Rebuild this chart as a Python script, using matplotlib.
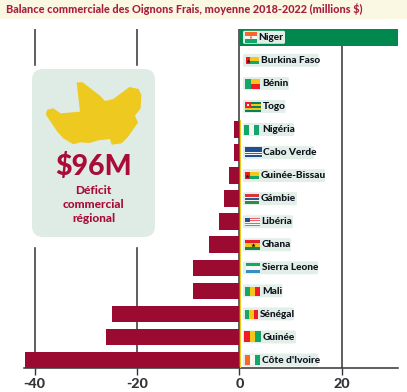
import matplotlib
matplotlib.use("Agg")
import matplotlib.pyplot as plt
from matplotlib.patches import FancyBboxPatch, Rectangle, Polygon, Circle

plt.rcParams['font.family'] = ['Lato', 'DejaVu Sans']
plt.rcParams['axes.unicode_minus'] = False

countries = ["Côte d'Ivoire", "Guinée", "Sénégal", "Mali", "Sierra Leone", "Ghana", "Libéria",
             "Gámbie", "Guinée-Bissau", "Cabo Verde", "Nigéria", "Togo", "Bénin", "Burkina Faso", "Niger"]
balance = [-42, -26, -25, -9, -9, -6, -4, -3, -2, -1, -1, 0, 0, 0, 31]
xticks = [-40, -20, 0, 20]
title = "Balance commerciale des Oignons Frais, moyenne 2018-2022 (millions $)"
callout_value = "$96M"
callout_text = "Déficit\ncommercial\nrégional"

W, H = 407, 392
RED, GREEN, YEL, DARK = '#9B0A31', '#00884F', '#EEC920', '#333338'
PANEL = '#DFECE6'

fig = plt.figure(figsize=(W / 100, H / 100), dpi=100, facecolor='white')
L, R, T, B = 24, 398, 29, 368.3
ax = fig.add_axes([L / W, 1 - B / H, (R - L) / W, (B - T) / H])
ax.set_xlim(-42.1, 30.98)
ax.set_ylim(-0.36, 14.36)
ax.set_facecolor('none')
for s in ['top', 'right', 'left']:
    ax.spines[s].set_visible(False)
ax.spines['bottom'].set_color(DARK)
ax.spines['bottom'].set_linewidth(1.1)
ax.set_yticks([])
ax.set_xticks(xticks)
ax.tick_params(axis='x', length=5, width=1.0, color=DARK, labelsize=10.4, labelcolor=DARK, pad=1.8)
for t in ax.get_xticklabels():
    t.set_fontweight('black')
for v in xticks:
    ax.axvline(v, color=DARK, lw=1.1, zorder=1)
ax.add_patch(Rectangle((-42.1, 4.93), 33.0, 7.83, color='white', zorder=2))
ypos = list(range(len(countries)))
ax.barh(ypos, balance, height=0.72, zorder=3,
        color=[GREEN if v > 0 else RED for v in balance])
ax.plot([0.12, 0.12], [-0.36, 10.4], color=YEL, lw=0.8, zorder=4)

ov = fig.add_axes([0, 0, 1, 1], facecolor='none')
ov.set_xlim(0, W)
ov.set_ylim(H, 0)
ov.axis('off')

# title band
ov.add_patch(Rectangle((0, 0), W, 18, color='#FAF8E3', zorder=1))
ov.text(6, 8.7, title, color='#A81E3F', fontsize=7.85, fontweight='black', va='center', ha='left')

# callout
ov.add_patch(FancyBboxPatch((42, 79), 103, 148, boxstyle='round,pad=10,rounding_size=11',
                            lw=0, fc=PANEL, zorder=2))
zm = [(110,22),(128,22),(180,62),(195,78),(220,72),(268,36),(296,42),(304,60),(302,100),(285,122),
      (294,143),(268,180),(262,188),(245,205),(215,209),(210,192),(175,196),(148,204),(120,202),
      (100,208),(70,190),(52,170),(35,145),(17,118),(22,104),(40,100),(62,115),(120,110)]
ov.add_patch(Polygon([(40 + x / 3, 75 + y / 3) for x, y in zm], fc=YEL, lw=0, zorder=3))
ov.text(93.5, 166, callout_value, color='#A80C37', fontsize=20.5, fontweight='black', ha='center', va='center', zorder=4)
for line, y in zip(callout_text.split('\n'), [190, 204, 218]):
    ov.text(93.5, y, line, color='#A80C37', fontsize=8.6, fontweight='black', ha='center', va='center', zorder=4)

# labels: right edge of box, text start
label_px = {"Niger": (285, 258.7), "Burkina Faso": (318.5, 261), "Bénin": (289, 262), "Togo": (285.5, 263),
            "Nigéria": (294, 262), "Cabo Verde": (314, 263), "Guinée-Bissau": (325, 261), "Gámbie": (297, 261),
            "Libéria": (293, 261), "Ghana": (291, 262), "Sierra Leone": (318, 262), "Mali": (282.5, 262),
            "Sénégal": (294, 260), "Guinée": (296, 262.7), "Côte d'Ivoire": (318, 262)}
O, Wt, G2, Y2, R2, B2 = '#F7672A', '#F5F7F2', '#12A668', '#F5C518', '#EE1C25', '#1F4E96'
flags = {
    "Niger": (245, 257, 32, 43, 'h', [O, Wt, G2]),
    "Burkina Faso": (245.7, 259, 57, 64, 'gb', None),
    "Bénin": (245, 260, 79, 89, 'benin', None),
    "Togo": (245, 260.5, 102, 112, 'togo', None),
    "Nigéria": (244, 259, 125, 135, 'v', [G2, Wt, G2]),
    "Cabo Verde": (245, 261.7, 147, 157, 'cv', None),
    "Guinée-Bissau": (245, 259, 172, 179, 'gb', None),
    "Gámbie": (244.5, 259, 194, 204, 'gm', None),
    "Libéria": (244.5, 260, 218, 226, 'lr', None),
    "Ghana": (245, 260, 240, 250, 'gh', None),
    "Sierra Leone": (245.7, 260, 263, 273, 'h', [G2, Wt, '#3C8DC5']),
    "Mali": (245, 259.5, 287, 296, 'v', [G2, Y2, R2]),
    "Sénégal": (244.5, 258, 310, 319, 'v', [G2, Y2, R2]),
    "Guinée": (244, 261, 331, 342, 'v', [R2, Y2, G2]),
    "Côte d'Ivoire": (245, 260, 355, 365, 'v', [O, Wt, G2]),
}

def r(x0, y0, x1, y1, c, z=7):
    ov.add_patch(Rectangle((x0, y0), x1 - x0, y1 - y0, fc=c, lw=0, zorder=z))

def hstripes(x0, x1, y0, y1, cols):
    h = (y1 - y0) / len(cols)
    for i, c in enumerate(cols):
        r(x0, y0 + i * h, x1, y0 + (i + 1) * h, c)

def vstripes(x0, x1, y0, y1, cols):
    w = (x1 - x0) / len(cols)
    for i, c in enumerate(cols):
        r(x0 + i * w, y0, x0 + (i + 1) * w, y1, c)

def draw_flag(x0, x1, y0, y1, kind, cols):
    w, h = x1 - x0, y1 - y0
    if kind == 'h':
        hstripes(x0, x1, y0, y1, cols)
        if cols[0] == O:
            ov.add_patch(Circle(((x0 + x1) / 2, (y0 + y1) / 2), 1.1, fc=O, lw=0, zorder=8))
    elif kind == 'v':
        vstripes(x0, x1, y0, y1, cols)
    elif kind == 'gb':
        hstripes(x0, x1, y0, y1, [Y2, G2])
        r(x0, y0, x0 + w * 0.33, y1, R2, 8)
        ov.plot([x0 + w * 0.16], [(y0 + y1) / 2], marker='*', ms=3, color='#111', mew=0, zorder=9)
    elif kind == 'benin':
        hstripes(x0, x1, y0, y1, [Y2, R2])
        r(x0, y0, x0 + w * 0.4, y1, G2, 8)
    elif kind == 'togo':
        hstripes(x0, x1, y0, y1, ['#0B7F5A', Y2, '#0B7F5A', Y2, '#0B7F5A'])
        r(x0, y0, x0 + w * 0.4, y0 + h * 0.6, '#E8232F', 8)
        r(x0 + w * 0.15, y0 + h * 0.2, x0 + w * 0.27, y0 + h * 0.4, Wt, 9)
    elif kind == 'cv':
        r(x0, y0, x1, y1, B2)
        hstripes(x0, x1, y0 + h * 0.5, y0 + h * 0.75, [Wt, '#D0323C', Wt])
    elif kind == 'gm':
        hstripes(x0, x1, y0, y1, ['#E0303A'] * 6 + [Wt] + ['#2A5A8F'] * 4 + [Wt] + ['#2F8A4E'] * 6)
    elif kind == 'lr':
        hstripes(x0, x1, y0, y1, ['#E5626A', Wt, '#E5626A', Wt, '#E5626A', Wt, '#E5626A'])
        r(x0, y0, x0 + w * 0.33, y0 + h * 0.55, '#2B4F8C', 8)
    elif kind == 'gh':
        hstripes(x0, x1, y0, y1, ['#E3202C', Y2, '#0F8A4C'])
        ov.plot([(x0 + x1) / 2], [(y0 + y1) / 2], marker='*', ms=3.5, color='#111', mew=0, zorder=9)

for name, v, i in zip(countries, balance, ypos):
    yc = 360 - 23.05 * i
    rx, tx = label_px[name]
    ov.add_patch(FancyBboxPatch((243, yc - 6.5), rx - 243, 13,
                                boxstyle='round,pad=0,rounding_size=1.5', fc='#E2EFE8', lw=0, zorder=6))
    x0, x1, y0, y1, kind, cols = flags[name]
    draw_flag(x0, x1, y0, y1, kind, cols)
    ov.text(tx, yc + 0.2, name, color='#10131C', fontsize=7.3, fontweight='black', va='center', ha='left', zorder=8)

fig.savefig('out.png', dpi=100, facecolor='white')
